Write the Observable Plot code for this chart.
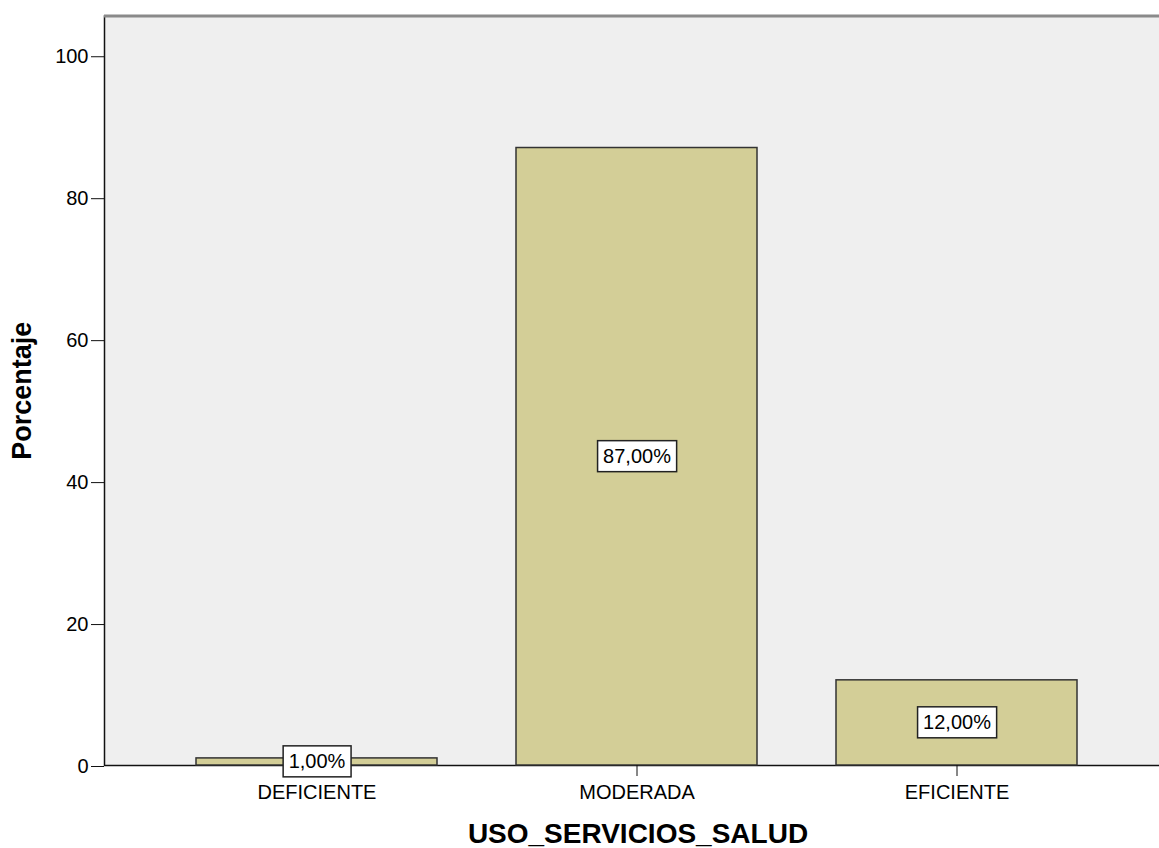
<!DOCTYPE html>
<html>
<head>
<meta charset="utf-8">
<script src="https://cdn.jsdelivr.net/npm/d3@7"></script>
<script src="https://cdn.jsdelivr.net/npm/@observablehq/plot@0.6"></script>
<style>
  html, body { margin: 0; padding: 0; background: #fff; overflow: hidden; }
  svg { display: block; }
</style>
</head>
<body>
<script>
const categories = ["DEFICIENTE", "MODERADA", "EFICIENTE"];
const percentages = [1, 87, 12];
const yTicks = [0, 20, 40, 60, 80, 100];
const xTitle = "USO_SERVICIOS_SALUD";
const yTitle = "Porcentaje";
const yMax = 105.6;

const fmt = v => v.toFixed(2).replace(".", ",") + "%";
const data = categories.map((c, i) => ({cat: c, pct: percentages[i], label: fmt(percentages[i])}));
const labelSet = new Set(data.map(d => d.label));

const chart = Plot.plot({
  width: 1159,
  height: 848,
  marginTop: 15.5,
  marginBottom: 83,
  marginLeft: 104,
  marginRight: 0,
  style: {fontFamily: "'Liberation Sans', Arial, sans-serif", fontSize: "20px", color: "#000", background: "#fff"},
  x: {domain: categories, range: [104, 1169], paddingInner: 0.247, paddingOuter: 0.2875, label: null},
  y: {domain: [0, yMax], label: null},
  marks: [
    Plot.frame({fill: "#efefef", stroke: "#111", strokeWidth: 1.5, insetRight: -4}),
    Plot.ruleY([yMax], {stroke: "#8a8a8a", strokeWidth: 3}),
    Plot.barY(data, {x: "cat", y: "pct", fill: "#d3ce97", stroke: "#333", strokeWidth: 1.5}),
    Plot.axisX({tickSize: 11, tickPadding: 8, fontSize: 20, label: null, stroke: "#111"}),
    Plot.axisY({ticks: yTicks, tickSize: 13, tickPadding: 3, fontSize: 20, label: null, tickFormat: d => String(d), stroke: "#111", dy: 1}),
    Plot.text(data, {x: "cat", y: d => d.pct / 2, text: "label", fontSize: 20, fill: "#000"}),
    Plot.text([xTitle], {text: d => d, frameAnchor: "bottom", dy: 77.5, dx: 6, lineAnchor: "bottom", fontSize: 28, fontWeight: "bold", fill: "#000"}),
    Plot.text([yTitle], {text: d => d, frameAnchor: "left", dx: -82, rotate: -90, textAnchor: "middle", lineAnchor: "middle", fontSize: 27, fontWeight: "bold", fill: "#000"})
  ]
});

document.body.append(chart);

// white boxes behind the value labels
Array.from(chart.querySelectorAll("text"))
  .filter(t => labelSet.has(t.textContent))
  .forEach(t => {
    const b = t.getBBox();
    const r = document.createElementNS("http://www.w3.org/2000/svg", "rect");
    r.setAttribute("x", b.x - 5.5);
    r.setAttribute("y", b.y - 4.5);
    r.setAttribute("width", b.width + 11);
    r.setAttribute("height", b.height + 9);
    r.setAttribute("fill", "#fff");
    r.setAttribute("stroke", "#222");
    r.setAttribute("stroke-width", 1.5);
    const tr = t.getAttribute("transform");
    if (tr) r.setAttribute("transform", tr);
    t.parentNode.insertBefore(r, t);
  });
</script>
</body>
</html>
